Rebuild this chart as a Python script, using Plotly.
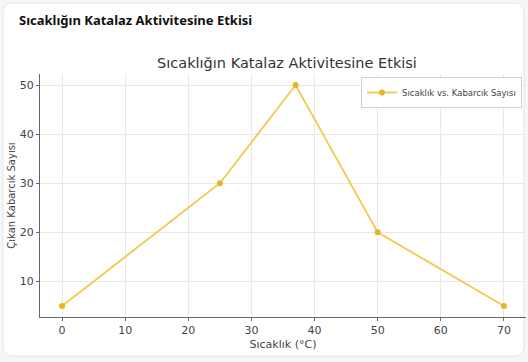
import plotly.graph_objects as go

temps = [0, 25, 37, 50, 70]
bubbles = [5, 30, 50, 20, 5]
x_ticks = [0, 10, 20, 30, 40, 50, 60, 70]
y_ticks = [10, 20, 30, 40, 50]

W, H = 528, 362
L, R, T, B = 40, 2, 74, 45
pw, ph = W - L - R, H - T - B

def px(x):
    return (x - L) / pw

def py(y):
    return (H - B - y) / ph

# rounded card path in paper coords
x0, x1, y0, y1, r = 3, 524, 3, 356, 10
def P(x, y):
    return f"{px(x):.5f},{py(y):.5f}"
card = (f"M {P(x0+r,y0)} L {P(x1-r,y0)} Q {P(x1,y0)} {P(x1,y0+r)} "
        f"L {P(x1,y1-r)} Q {P(x1,y1)} {P(x1-r,y1)} L {P(x0+r,y1)} "
        f"Q {P(x0,y1)} {P(x0,y1-r)} L {P(x0,y0+r)} Q {P(x0,y0)} {P(x0+r,y0)} Z")

fig = go.Figure()
fig.add_trace(go.Scatter(
    x=temps, y=bubbles, mode="lines+markers",
    name="Sıcaklık vs. Kabarcık Sayısı",
    line=dict(color="#f2c94c", width=1.8),
    marker=dict(color="#e8b325", size=6),
))

fig.update_layout(
    width=W, height=H,
    margin=dict(l=L, r=R, t=T, b=B),
    paper_bgcolor="#f6f6f6",
    plot_bgcolor="rgba(0,0,0,0)",
    font=dict(family="DejaVu Sans", color="#444"),
    title=dict(text="Sıcaklığın Katalaz Aktivitesine Etkisi",
               xref="container", yref="container",
               x=287 / W, xanchor="center", y=1 - 63 / H, yanchor="middle",
               font=dict(size=14.5, color="#333")),
    shapes=[dict(type="path", xref="paper", yref="paper", path=card,
                 fillcolor="white", line=dict(color="#e6e6e6", width=1),
                 layer="below")],
    annotations=[dict(text="<b>Sıcaklığın Katalaz Aktivitesine Etkisi</b>",
                      xref="paper", yref="paper", x=px(17), y=py(20),
                      xanchor="left", yanchor="middle", showarrow=False,
                      font=dict(family="Noto Sans", size=13, color="#111"))],
    showlegend=True,
    legend=dict(x=px(522), y=py(77), xanchor="right", yanchor="top",
                bgcolor="white", bordercolor="#d0d0d0", borderwidth=1,
                font=dict(size=8.5, color="#444"), itemwidth=30,
                tracegroupgap=0),
    xaxis=dict(range=[-3.5, 73.5], tickvals=x_ticks, showgrid=True,
               gridcolor="#e8e8e8", gridwidth=1, zeroline=False,
               showline=True, linecolor="#666", linewidth=1.2,
               ticks="outside", ticklen=3, tickcolor="#666",
               tickfont=dict(size=11, color="#444"),
               title=dict(text="Sıcaklık (°C)", font=dict(size=11, color="#444"),
                          standoff=4)),
    yaxis=dict(range=[2.75, 52.25], tickvals=y_ticks, showgrid=True,
               gridcolor="#e8e8e8", gridwidth=1, zeroline=False,
               showline=True, linecolor="#666", linewidth=1.2,
               ticks="outside", ticklen=3, tickcolor="#666",
               tickfont=dict(size=11, color="#444"),
               title=dict(text="Çıkan Kabarcık Sayısı", font=dict(size=10, color="#444"),
                          standoff=2)),
)

fig.write_html("out.html")
